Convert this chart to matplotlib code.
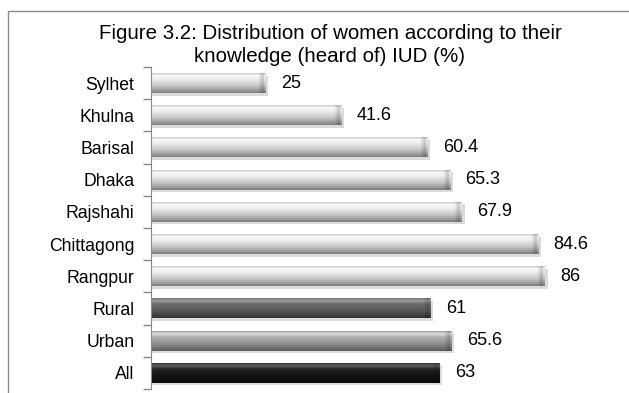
import numpy as np
import matplotlib.pyplot as plt
from matplotlib.patches import Rectangle

plt.rcParams['font.family'] = ['Liberation Sans', 'DejaVu Sans']

# data
categories = ['Sylhet', 'Khulna', 'Barisal', 'Dhaka', 'Rajshahi',
              'Chittagong', 'Rangpur', 'Rural', 'Urban', 'All']
values = [25, 41.6, 60.4, 65.3, 67.9, 84.6, 86, 61, 65.6, 63]
labels = ['25', '41.6', '60.4', '65.3', '67.9', '84.6', '86', '61', '65.6', '63']
title = 'Figure 3.2: Distribution of women according to their\nknowledge (heard of) IUD (%)'

# vertical shading profile per bar style (top -> bottom), gray levels
styles = {
    'light': ([0.0, 0.12, 0.3, 0.6, 0.85, 1.0], [0.80, 0.98, 0.93, 0.80, 0.62, 0.50]),
    'mid':   ([0.0, 0.12, 0.3, 0.6, 0.85, 1.0], [0.62, 0.88, 0.68, 0.58, 0.45, 0.36]),
    'dark':  ([0.0, 0.12, 0.3, 0.6, 0.85, 1.0], [0.45, 0.62, 0.42, 0.36, 0.26, 0.20]),
    'black': ([0.0, 0.12, 0.3, 0.6, 0.85, 1.0], [0.22, 0.38, 0.14, 0.08, 0.06, 0.05]),
}
bar_style = ['light'] * 7 + ['dark', 'mid', 'black']

fig = plt.figure(figsize=(6.29, 3.93), dpi=100)
ax = fig.add_axes([151 / 629, 4 / 393, 458 / 629, 322 / 393])

h = 0.62
for i, (v, st) in enumerate(zip(values, bar_style)):
    pos, lev = styles[st]
    rows = np.interp(np.linspace(0, 1, 40), pos, lev)
    ncol = max(int(v * 6), 10)
    xs = np.linspace(0, v, ncol)
    # darker rounded cap at the right end
    cap = np.clip((v - xs) / 1.6, 0, 1)
    colf = 0.70 + 0.30 * cap
    colf[xs > v - 0.35] = 0.95
    img = np.clip(rows[:, None] * colf[None, :], 0, 1)
    rgb = np.dstack([img, img, img])
    # soft shadow
    ax.add_patch(Rectangle((0.3, i - h / 2 + 0.08), v + 0.3, h, color='0.6',
                           alpha=0.35, lw=0, zorder=1))
    ax.imshow(rgb, extent=(0, v, i + h / 2, i - h / 2), origin='upper',
              aspect='auto', interpolation='bilinear', zorder=2)
    ax.annotate(labels[i], (v, i), xytext=(11, 0), textcoords='offset points',
                va='center', ha='left', fontsize=13, color='black')

ax.set_xlim(0, 100)
ax.set_ylim(9.5, -0.5)
ax.set_yticks(range(len(categories)))
ax.set_yticklabels(categories, fontsize=12.7)
ax.tick_params(axis='y', which='major', length=0, pad=12)
ax.set_yticks(np.arange(-0.5, 10, 1), minor=True)
ax.tick_params(axis='y', which='minor', length=6, color='#888888', width=1)
ax.set_xticks([])
for s in ['top', 'right', 'bottom']:
    ax.spines[s].set_visible(False)
ax.spines['left'].set_color('#888888')
ax.patch.set_alpha(0)

# outer chart border (cut off at right and bottom)
fig.patches.append(Rectangle((8 / 629, -0.1), 1.2, 1.1 - 11 / 393,
                             transform=fig.transFigure, fill=False,
                             edgecolor='#8a8a8a', lw=1))

fig.text(330 / 629, 1 - 45 / 393, title, ha='center', va='center',
         fontsize=14.8, linespacing=1.3)

fig.savefig('out.png', dpi=100)
